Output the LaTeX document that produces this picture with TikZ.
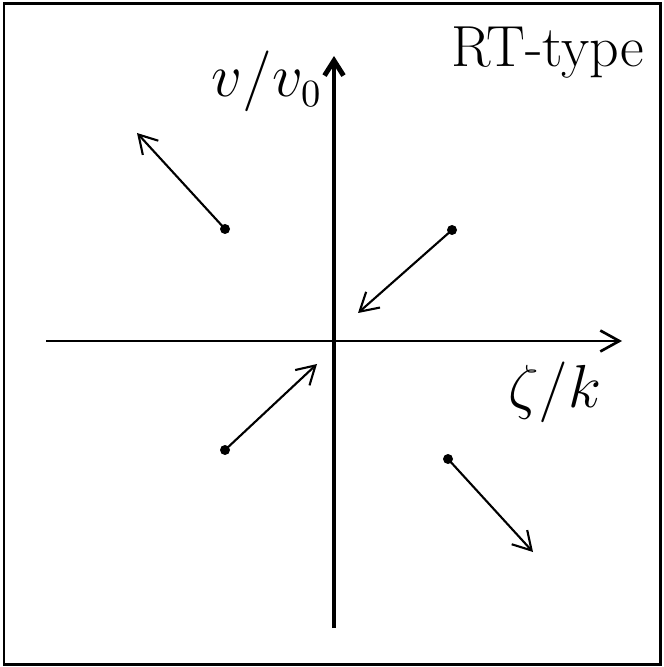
\documentclass[tikz,border=0pt]{standalone}
\usepackage{tikz}
\usetikzlibrary{arrows.meta}

\begin{document}
\begin{tikzpicture}[
  x=0.1mm,y=-0.1mm,
  font=\fontsize{16}{19}\selectfont,
  rahmen/.style={line width=0.85pt},
  achse/.style={line width=0.75pt,-{Straight Barb[length=1.9mm,width=2.1mm]}},
  hauptachse/.style={line width=1.4pt,-{Straight Barb[length=1.5mm,width=1.9mm]}},
  punkt/.style={circle,fill,inner sep=0pt,minimum size=1mm},
  pfeil/.style={line width=0.6pt,-{Straight Barb[length=1.8mm,width=2.1mm]}}
]
\useasboundingbox (0,0) rectangle (663,667);
\draw[rahmen] (4,4) rectangle (660,664);

% Achsen
\coordinate (xl) at (46,341);
\coordinate (xr) at (622,341);
\coordinate (yu) at (334,628);
\coordinate (yo) at (334,56);
\draw[achse] (xl) -- (xr);
\draw[hauptachse] (yu) -- (yo);

\node[anchor=base] (ly) at (267,97) {$v/v_0$};
\node[anchor=base] (lx) at (555,407) {$\zeta/k$};
\node[anchor=base,font=\fontsize{16.5}{20}\selectfont] (typ) at (548,67) {RT-type};

% Geschwindigkeiten
\node[punkt] (p1) at (225,229) {};
\node[punkt] (p2) at (452,230) {};
\node[punkt] (p3) at (225,450) {};
\node[punkt] (p4) at (448,459) {};
\coordinate (q1) at (137,133);
\coordinate (q2) at (358,313);
\coordinate (q3) at (317,364);
\coordinate (q4) at (533,552);

\foreach \a/\b in {p1/q1,p2/q2,p3/q3,p4/q4} \draw[pfeil] (\a.center) -- (\b);
\end{tikzpicture}
\end{document}
